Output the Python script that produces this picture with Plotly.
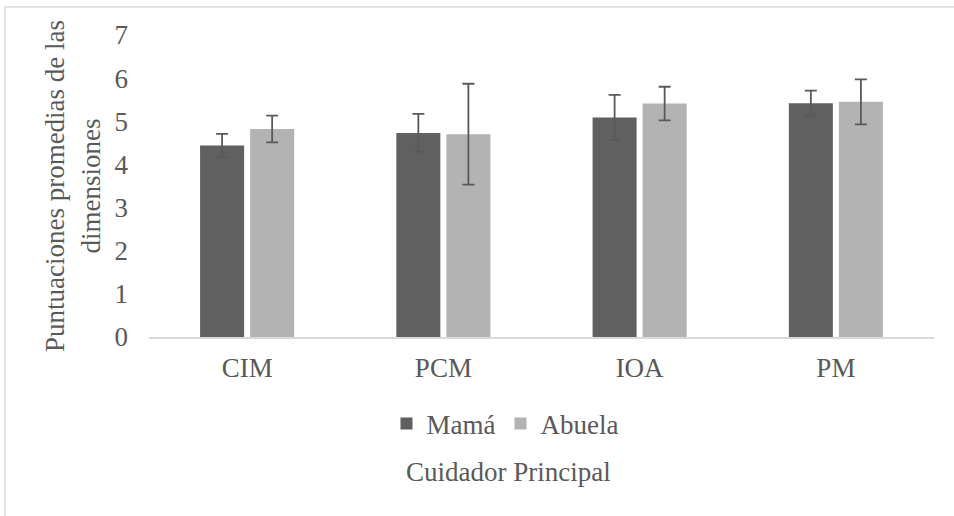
import plotly.graph_objects as go

categories = ["CIM", "PCM", "IOA", "PM"]
mama = [4.44, 4.73, 5.09, 5.42]
mama_err = [0.27, 0.44, 0.52, 0.29]
abuela = [4.82, 4.70, 5.41, 5.45]
abuela_err = [0.31, 1.17, 0.39, 0.52]
y_ticks = [0, 1, 2, 3, 4, 5, 6, 7]

FONT = "Liberation Serif"
TXT = "#595959"

fig = go.Figure()
fig.add_trace(go.Bar(
    x=categories, y=mama, name="Mamá",
    marker=dict(color="#606060", line=dict(width=0)),
    error_y=dict(type="data", array=mama_err, visible=True,
                 color="#595959", thickness=1.8, width=6),
))
fig.add_trace(go.Bar(
    x=categories, y=abuela, name="Abuela",
    marker=dict(color="#b3b3b3", line=dict(width=0)),
    error_y=dict(type="data", array=abuela_err, visible=True,
                 color="#595959", thickness=1.8, width=6),
))

W, H = 954, 516
L, R, T, B = 149, 20, 35, 179
pw, ph = W - L - R, H - T - B

def px_x(x):
    return (x - L) / pw

def px_y(y):
    return (H - B - y) / ph

fig.update_layout(
    width=W, height=H,
    margin=dict(l=L, r=R, t=T, b=B, autoexpand=False),
    paper_bgcolor="white", plot_bgcolor="white",
    font=dict(family=FONT, size=27, color=TXT),
    barmode="group", bargap=0.49, bargroupgap=0.12,
    showlegend=True,
    legend=dict(orientation="h", x=px_x(505), xanchor="center",
                y=px_y(424), yanchor="middle",
                font=dict(family=FONT, size=27, color=TXT),
                itemwidth=30, traceorder="normal"),
    xaxis=dict(showline=True, linecolor="#d9d9d9", linewidth=1.5,
               showgrid=False, ticks="", ticklabelstandoff=6,
               tickfont=dict(family=FONT, size=27, color=TXT)),
    yaxis=dict(range=[0, 7], tickvals=y_ticks, showgrid=False,
               zeroline=False, showline=False, ticks="",
               ticklabelstandoff=20,
               tickfont=dict(family=FONT, size=27, color=TXT),
               title=dict(text="Puntuaciones promedias de las<br>dimensiones",
                          font=dict(family=FONT, size=27, color=TXT),
                          standoff=6)),
    annotations=[dict(text="Cuidador Principal", xref="paper", yref="paper",
                      x=px_x(508), y=px_y(472), xanchor="center", yanchor="middle",
                      showarrow=False,
                      font=dict(family=FONT, size=27, color=TXT))],
    shapes=[
        dict(type="line", xref="paper", yref="paper",
             x0=px_x(5), x1=px_x(960), y0=px_y(7), y1=px_y(7),
             line=dict(color="#d9d9d9", width=1.5)),
        dict(type="line", xref="paper", yref="paper",
             x0=px_x(5), x1=px_x(5), y0=px_y(7), y1=px_y(530),
             line=dict(color="#d9d9d9", width=1.5)),
    ],
)

fig.write_html("out.html",
               config={"displayModeBar": False},
               post_script="document.body.style.margin='0px';document.body.style.overflow='hidden';")
